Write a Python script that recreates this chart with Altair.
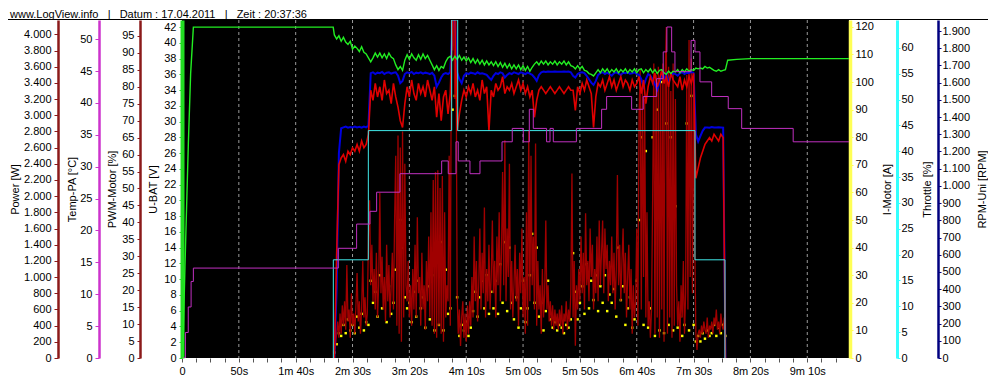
import altair as alt
import pandas as pd

# ---------------- data ----------------
# U-BAT [V]
ubat_t_start = [0.6, 2.6, 5.6, 7.6, 10, 133]
ubat_v_start = [0, 11.6, 27.3, 36.1, 42.0, 42.0]
flight_t2 = list(range(134, 479, 2))          # 2 s sample times during flight
ubat_v_flight = [
    41.0, 40.5, 40.9, 40.2, 40.7, 40.1, 39.8, 40.2, 39.2, 39.6,
    39.3, 38.9, 39.5, 38.8, 38.6, 38.1, 37.6, 38.1, 38.7, 38.2,
    38.7, 38.1, 38.6, 38.0, 38.7, 38.2, 38.0, 37.2, 36.6, 37.0,
    36.5, 37.8, 38.5, 37.9, 38.6, 38.1, 37.8, 38.5, 37.9, 38.6,
    38.0, 38.4, 37.8, 37.2, 36.6, 37.1, 36.5, 37.0, 36.8, 37.6,
    38.1, 38.3, 37.8, 38.3, 37.9, 38.4, 37.8, 38.2, 37.7, 38.1,
    37.5, 38.0, 37.4, 37.9, 37.3, 37.8, 37.2, 37.7, 37.2, 37.6,
    37.1, 37.6, 37.0, 37.5, 36.9, 37.4, 36.8, 37.3, 36.7, 37.2,
    36.7, 37.2, 36.6, 37.1, 36.5, 37.0, 36.4, 36.9, 37.3, 37.6,
    37.2, 37.7, 37.3, 37.7, 37.2, 37.6, 37.3, 37.7, 37.2, 37.6,
    37.3, 37.7, 37.2, 37.6, 37.1, 37.0, 36.7, 37.1, 36.7, 37.0,
    36.5, 36.4, 36.1, 36.0, 35.8, 36.2, 36.6, 36.2, 36.7, 36.3,
    36.7, 36.2, 36.6, 36.3, 36.7, 36.2, 36.6, 36.3, 36.7, 36.2,
    36.6, 36.3, 36.7, 36.2, 36.6, 36.7, 36.2, 36.6, 36.3, 36.7,
    36.2, 36.6, 36.1, 36.5, 36.6, 36.2, 36.0, 36.4, 36.1, 36.4,
    36.3, 36.6, 36.2, 36.6, 36.3, 36.7, 36.4, 36.6, 36.5, 36.8,
    36.7, 36.8, 36.7, 37.0, 36.8, 36.9, 36.7, 36.5, 36.4, 36.6,
    36.4, 36.5, 36.6,
]
ubat_t_end = [480, 488, 500, 587]
ubat_v_end = [37.8, 37.9, 38.0, 38.0]

# Power [W], 1 s samples from 133 s
power_t = list(range(133, 479))
power_w = [
    70, 90, 150, 300, 450, 250, 550, 300, 650, 400,
    700, 350, 1150, 450, 600, 250, 800, 400, 550, 300,
    650, 1050, 450, 700, 300, 600, 1200, 500, 750, 400,
    550, 1500, 1950, 900, 1400, 700, 1100, 600, 1300, 500,
    900, 2040, 800, 1250, 600, 1000, 450, 1400, 700, 1150,
    500, 900, 1300, 600, 1700, 2500, 400, 2750, 300, 2600,
    200, 2800, 500, 2400, 900, 700, 1200, 500, 900, 400,
    1100, 600, 1400, 500, 1740, 800, 1000, 400, 1300, 600,
    900, 350, 1200, 700, 1500, 500, 1800, 400, 2200, 300,
    2300, 250, 2320, 400, 2100, 300, 2250, 200, 1800, 500,
    900, 700, 2500, 400, 4177, 3800, 4177, 3200, 4177, 800,
    300, 600, 150, 500, 700, 250, 550, 200, 650, 300,
    700, 400, 1000, 500, 1500, 700, 1200, 450, 900, 1600,
    600, 1300, 800, 1860, 500, 1100, 700, 1400, 600, 1000,
    1700, 800, 1200, 500, 1500, 900, 1800, 700, 1300, 2300,
    900, 2690, 700, 1600, 1000, 2400, 600, 1200, 500, 900,
    1400, 700, 1100, 400, 1300, 800, 1600, 500, 1000, 300,
    1800, 400, 2810, 700, 2500, 900, 1500, 600, 2650, 400,
    1200, 600, 900, 300, 1100, 500, 800, 1700, 600, 900,
    450, 700, 400, 650, 350, 600, 400, 550, 350, 600,
    400, 650, 300, 550, 450, 700, 350, 600, 450, 800,
    2280, 500, 1200, 150, 900, 600, 1100, 700, 1500, 800,
    1300, 600, 1790, 900, 1200, 700, 1600, 1000, 1400, 600,
    1100, 800, 1500, 700, 1700, 900, 1300, 1700, 800, 1600,
    1100, 1400, 700, 1200, 900, 1500, 800, 1300, 600, 1100,
    2260, 900, 1400, 700, 1200, 1600, 800, 1300, 500, 1000,
    1400, 600, 1100, 300, 900, 500, 700, 1600, 400, 3000,
    3560, 600, 3400, 1000, 3200, 500, 1800, 400, 700, 250,
    600, 2000, 3640, 300, 3500, 500, 3600, 250, 3400, 600,
    3640, 200, 3500, 4090, 300, 3600, 500, 3300, 250, 3640,
    400, 3200, 900, 400, 700, 200, 900, 500, 1200, 300,
    800, 3500, 600, 3930, 1000, 3700, 800, 3400, 1500, 300,
    100, 300, 350, 250, 400, 300, 450, 350, 300, 500,
    250, 400, 350, 450, 300, 500, 400, 600, 350, 450,
    300, 550, 400, 350, 500, 200,
]

# I-Motor [A], 2 s samples
current_a = [
    2, 5, 9, 8, 12, 9, 14, 10, 12, 9,
    15, 11, 16, 10, 13, 12, 28, 20, 24, 15,
    30, 18, 22, 13, 26, 16, 20, 32, 45, 50,
    40, 22, 18, 20, 13, 24, 15, 28, 18, 22,
    11, 26, 14, 30, 10, 40, 12, 42, 10, 32,
    16, 18, 90, 95, 22, 8, 12, 10, 13, 8,
    11, 17, 24, 15, 22, 28, 18, 30, 16, 24,
    18, 28, 16, 34, 20, 42, 17, 40, 20, 14,
    22, 11, 18, 28, 13, 18, 30, 45, 20, 40,
    15, 20, 10, 17, 28, 14, 11, 13, 10, 12,
    11, 9, 12, 11, 14, 38, 24, 14, 20, 26,
    16, 34, 18, 28, 21, 30, 17, 26, 20, 30,
    17, 23, 20, 25, 15, 40, 21, 26, 12, 18,
    22, 11, 14, 28, 50, 80, 12, 75, 11, 18,
    80, 8, 90, 10, 100, 9, 85, 12, 80, 10,
    55, 11, 15, 8, 12, 85, 10, 95, 12, 6,
    8, 6, 9, 7, 10, 8, 9, 12, 8, 11,
    9, 12, 8,
]

# PWM-Motor [%], 2 s samples
pwm_pct = [
    0, 30, 57, 59, 60, 58, 61, 60, 62, 61,
    63, 61, 64, 62, 63, 66, 79, 76, 81, 77,
    80, 76, 82, 78, 79, 75, 81, 77, 74, 70,
    68, 75, 80, 77, 82, 78, 76, 81, 78, 80,
    77, 82, 79, 76, 80, 71, 78, 70, 77, 79,
    72, 78, 100, 100, 67, 72, 76, 79, 77, 80,
    78, 81, 77, 79, 76, 82, 78, 80, 67, 79,
    77, 81, 79, 80, 83, 78, 80, 79, 81, 78,
    80, 82, 79, 81, 78, 80, 77, 79, 71, 76,
    79, 80, 79, 78, 79, 80, 79, 78, 79, 80,
    79, 78, 79, 80, 79, 79, 73, 80, 78, 81,
    79, 82, 80, 78, 68, 77, 81, 80, 82, 79,
    81, 83, 80, 82, 79, 81, 83, 80, 82, 81,
    79, 82, 80, 81, 83, 78, 82, 75, 80, 83,
    81, 84, 80, 82, 85, 81, 83, 80, 84, 82,
    81, 80, 83, 79, 82, 80, 83, 81, 84, 53,
    56, 59, 61, 63, 64, 65, 64, 66, 65, 64,
    66, 65, 0,
]

# RPM-Uni [RPM], 2 s samples
rpm_val = [
    0, 400, 1190, 1335, 1340, 1345, 1338, 1342, 1340, 1345,
    1340, 1343, 1338, 1345, 1340, 1350, 1655, 1660, 1650, 1658,
    1655, 1662, 1650, 1658, 1660, 1652, 1657, 1660, 1640, 1597,
    1610, 1650, 1660, 1655, 1662, 1650, 1658, 1655, 1660, 1652,
    1658, 1655, 1650, 1657, 1640, 1577, 1600, 1630, 1650, 1655,
    1650, 1660, 1964, 1964, 1660, 1620, 1597, 1640, 1655, 1650,
    1658, 1655, 1650, 1660, 1652, 1655, 1650, 1645, 1630, 1616,
    1640, 1655, 1650, 1660, 1655, 1630, 1645, 1655, 1650, 1660,
    1655, 1650, 1660, 1655, 1650, 1658, 1652, 1645, 1630, 1610,
    1645, 1660, 1664, 1662, 1665, 1664, 1663, 1665, 1664, 1663,
    1664, 1665, 1663, 1664, 1660, 1640, 1630, 1650, 1658, 1660,
    1655, 1640, 1620, 1600, 1587, 1610, 1645, 1655, 1660, 1650,
    1658, 1650, 1640, 1655, 1660, 1652, 1645, 1658, 1655, 1660,
    1652, 1655, 1660, 1650, 1645, 1620, 1577, 1620, 1650, 1640,
    1620, 1590, 1558, 1600, 1640, 1620, 1650, 1600, 1640, 1655,
    1650, 1640, 1655, 1660, 1650, 1658, 1655, 1662, 1655, 1300,
    1258, 1290, 1320, 1339, 1340, 1338, 1342, 1340, 1339, 1341,
    1340, 1339, 0,
]

# Throttle [%] (steps)
throttle_t = [132.9, 133.1, 163.9, 237.2, 242.5, 451.2, 477.6]
throttle_pct = [0, 19, 44, 65.4, 44, 19, 0]

# Temp-PA [°C] (steps)
temp_t = [0.6, 3, 5.5, 8, 10, 137.5, 153.6, 165.3, 171.2, 191.7,
          228.4, 234.2, 241, 243, 253.3, 262.1, 281.5, 290.5, 300.2, 305.5,
          309, 320.7, 323.7, 326.6, 346.9, 369.1, 373.5, 395.5, 405.7, 417.5,
          423.3, 426.5, 430.7, 433.6, 447.8, 451.2, 455.6, 465.9, 480.5, 492.3,
          537.6, 587]
temp_c = [0, 4, 8, 12, 14.1, 17.2, 21.0, 23.0, 26.0, 28.9,
          30.9, 28.9, 33.9, 30.9, 28.9, 30.9, 33.9, 36.0, 33.9, 39.0,
          36.0, 33.9, 36.0, 33.9, 36.0, 39.0, 41.0, 39.0, 41.0, 43.8,
          48.0, 51.9, 48.0, 44.9, 49.8, 48.0, 43.3, 41.0, 39.1, 36.0,
          33.9, 33.9]

grid_t = [50, 100, 150, 200, 250, 300, 350, 400, 450, 500, 550]
x_ticks = [i * 12.5 for i in range(47)]

NB = "\u00a0"
header_text = ("www.LogView.info" + NB * 3 + "|" + NB * 3 + "Datum : 17.04.2011"
               + NB * 3 + "|" + NB * 3 + "Zeit : 20:37:36")


def frame(ts, vs):
    return pd.DataFrame([{"t": a, "v": b} for a, b in zip(ts, vs)])


ubat_df = frame(ubat_t_start + flight_t2 + ubat_t_end,
                ubat_v_start + ubat_v_flight + ubat_v_end)
power_df = frame(power_t, power_w)
current_df = frame(flight_t2, current_a)
pwm_df = frame(flight_t2, pwm_pct)
rpm_df = frame(flight_t2, rpm_val)
throttle_df = frame(throttle_t, throttle_pct)
temp_df = frame(temp_t, temp_c)
grid_df = pd.DataFrame({"t": grid_t})

FONT = "Liberation Sans"
H = 338

x_label_expr = (
    "datum.value % 50 != 0 ? '' : (datum.value == 0 ? '0' : (datum.value < 60 ? "
    "datum.value + 's' : floor(datum.value / 60) + 'm ' + "
    "(datum.value % 60 < 10 ? '0' : '') + (datum.value % 60) + 's'))"
)
x_axis = alt.Axis(values=x_ticks, labelExpr=x_label_expr, grid=False, domain=False,
                  tickColor="#555555", tickSize=4, labelPadding=3, labelColor="black",
                  labelFontSize=11, labelFont=FONT, title=None, labelFlush=False,
                  labelOverlap=False)
x_enc = alt.X("t:Q", scale=alt.Scale(domain=[0, 586.7], nice=False, zero=False), axis=x_axis)

GERMAN = "replace(format(datum.value, ','), ',', '.')"


def yaxis(orient, offset, values, color, dw, title, tx, tsize=3, lpad=3, expr=None):
    kw = dict(orient=orient, offset=offset, values=values, domainColor=color,
              domainWidth=dw, tickColor=color, tickSize=tsize, labelPadding=lpad,
              title=title, titleX=tx, titleY=H / 2, titleAngle=270,
              titleBaseline="middle", titleAlign="center", grid=False,
              labelColor="black", titleColor="black", labelFontSize=11,
              titleFontSize=11, titleFontWeight="normal", labelFont=FONT,
              titleFont=FONT, labelOverlap=False, labelFlush=False)
    if expr:
        kw["labelExpr"] = expr
    return alt.Axis(**kw)


def ysc(mx):
    return alt.Scale(domain=[0, mx], nice=False, zero=True)


grid = alt.Chart(grid_df).mark_rule(color="#9a9a9a", strokeDash=[3, 3], strokeWidth=1).encode(x=x_enc)

current = alt.Chart(current_df).mark_square(color="#FFFF00", size=6, opacity=1, filled=True, clip=True).encode(
    x=x_enc,
    y=alt.Y("v:Q", scale=ysc(122.5),
            axis=yaxis("right", 1, list(range(0, 121, 10)), "#FFFF55", 3.5, "I-Motor [A]", 37, 3, 2)))

power = alt.Chart(power_df).mark_line(color="#A00000", strokeWidth=1.3, clip=True).encode(
    x=x_enc,
    y=alt.Y("v:Q", scale=ysc(4177),
            axis=yaxis("left", 124, list(range(0, 4001, 200)), "#8B1A1A", 2.5, "Power [W]", -43, 4, 3, GERMAN)))

rpm = alt.Chart(rpm_df).mark_line(color="#0000E0", strokeWidth=2, clip=True).encode(
    x=x_enc,
    y=alt.Y("v:Q", scale=ysc(1964),
            axis=yaxis("right", 89, list(range(0, 1901, 100)), "#000080", 2.5, "RPM-Uni [RPM]", 44, 3, 1, GERMAN)))

pwm = alt.Chart(pwm_df).mark_line(color="#E00000", strokeWidth=1.6, clip=True).encode(
    x=x_enc,
    y=alt.Y("v:Q", scale=ysc(99.7),
            axis=yaxis("left", 42, list(range(0, 96, 5)), "#8B1A1A", 2.5, "PWM-Motor [%]", -28, 3, 3)))

ubat = alt.Chart(ubat_df).mark_line(color="#22EE22", strokeWidth=1.4, clip=True).encode(
    x=x_enc,
    y=alt.Y("v:Q", scale=ysc(42.9),
            axis=yaxis("left", 0, list(range(0, 43, 2)), "#22DD22", 4, "U-BAT [V]", -29, 3, 3)))

throttle = alt.Chart(throttle_df).mark_line(color="#40E8E8", strokeWidth=1, interpolate="step-after", clip=True).encode(
    x=x_enc,
    y=alt.Y("v:Q", scale=ysc(65.4),
            axis=yaxis("right", 48, list(range(0, 61, 5)), "#33FFFF", 3, "Throttle [%]", 30, 3, 1)))

temp = alt.Chart(temp_df).mark_line(color="#C030C0", strokeWidth=1, interpolate="step-after", clip=True).encode(
    x=x_enc,
    y=alt.Y("v:Q", scale=ysc(53.0),
            axis=yaxis("left", 83, list(range(0, 51, 5)), "#CC33CC", 2.5, "Temp-PA [°C]", -27, 4, 3)))

one = alt.Data(values=[{"a": 1}])
header = alt.Chart(one).mark_text(align="left", baseline="alphabetic", font=FONT,
                                  fontSize=11, color="black").encode(
    x=alt.value(-172), y=alt.value(-2.5), text=alt.value(header_text))
header_line = alt.Chart(one).mark_rule(color="black", strokeWidth=1).encode(
    x=alt.value(-174), x2=alt.value(806), y=alt.value(-0.5))

chart = alt.layer(grid, current, power, rpm, pwm, ubat, throttle, temp, header, header_line).resolve_scale(
    y="independent"
).properties(
    width=667, height=H,
    padding={"left": 174, "top": 12, "right": 139, "bottom": 17},
    autosize="none",
    background="white",
).configure_view(fill="black", stroke=None)

chart.save("out.html", embed_options={"renderer": "svg", "actions": False})
